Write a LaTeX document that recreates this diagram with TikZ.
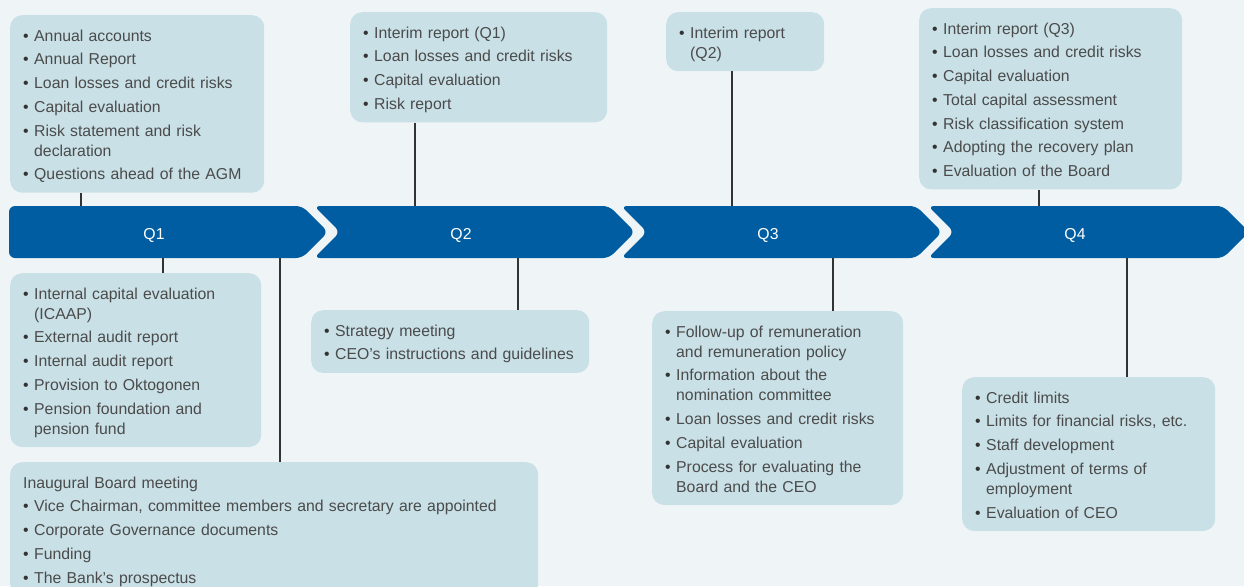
\documentclass[tikz,border=0pt]{standalone}
\usepackage{fontspec}
\setmainfont{Liberation Sans}
\usetikzlibrary{positioning}

\definecolor{bggray}{HTML}{EFF5F6}
\definecolor{boxblue}{HTML}{C8E0E6}
\definecolor{bandblue}{HTML}{005DA1}
\definecolor{textgray}{HTML}{4B4B4B}
\definecolor{linegray}{HTML}{333333}

\newcommand{\topst}{\rule{0pt}{19pt}}
\newcommand{\botst}{\rule[-6pt]{0pt}{6pt}}
\newcommand{\itm}[1]{\mbox{\makebox[11pt][l]{\textcolor{linegray}{\textbullet}}#1}}
\newcommand{\cnt}[1]{\mbox{\hspace*{11pt}#1}}
\newcommand{\nxt}{\\[3.7pt]}

\begin{document}
\begin{tikzpicture}[
  x=1pt, y=-1pt,
  every node/.style = {font=\fontsize{15.8}{20}\selectfont},
  box/.style  = {rectangle, rounded corners=12pt, fill=boxblue, text=textgray,
                 anchor=north west, align=left, inner xsep=13pt, inner ysep=7pt},
  band/.style = {fill=bandblue, rounded corners=6pt},
  qlbl/.style = {text=white},
  conn/.style = {draw=linegray, line width=1.2pt},
]
\clip (0,0) rectangle (1244,586);
\fill[bggray] (0,0) rectangle (1244,586);

% quarter band
\fill[band] (9,206) -- (302,206) -- (328,232) -- (302,258) -- (9,258) -- cycle;
\foreach \i in {1,2,3}
  \fill[band] ({7+307*\i},206) -- ++(295,0) -- ++(26,26) -- ++(-26,26)
              -- ++(-295,0) -- ++(26,-26) -- cycle;
\foreach \i in {1,...,4}
  \node[qlbl] (q\i) at ({154+307*(\i-1)},235) {Q\i};

% boxes above the band
\node[box, text width=228pt] (acc) at (10,15)
  {\topst\itm{Annual accounts}\nxt
   \itm{Annual Report}\nxt
   \itm{Loan losses and credit risks}\nxt
   \itm{Capital evaluation}\nxt
   \itm{Risk statement and risk}\\
   \cnt{declaration}\nxt
   \itm{Questions ahead of the AGM}\botst};
\node[box, text width=231pt] (rep1) at (350,12)
  {\topst\itm{Interim report (Q1)}\nxt
   \itm{Loan losses and credit risks}\nxt
   \itm{Capital evaluation}\nxt
   \itm{Risk report}\botst};
\node[box, text width=132pt] (rep2) at (666,12)
  {\topst\itm{Interim report}\\
   \cnt{(Q2)}\botst};
\node[box, text width=237pt] (rep3) at (919,8)
  {\topst\itm{Interim report (Q3)}\nxt
   \itm{Loan losses and credit risks}\nxt
   \itm{Capital evaluation}\nxt
   \itm{Total capital assessment}\nxt
   \itm{Risk classification system}\nxt
   \itm{Adopting the recovery plan}\nxt
   \itm{Evaluation of the Board}\botst};

% boxes below the band
\node[box, text width=225pt] (icaap) at (10,273)
  {\topst\itm{Internal capital evaluation}\\
   \cnt{(ICAAP)}\nxt
   \itm{External audit report}\nxt
   \itm{Internal audit report}\nxt
   \itm{Provision to Oktogonen}\nxt
   \itm{Pension foundation and}\\
   \cnt{pension fund}\botst};
\node[box, text width=502pt] (board) at (10,462)
  {\topst Inaugural Board meeting\nxt
   \itm{Vice Chairman, committee members and secretary are appointed}\nxt
   \itm{Corporate Governance documents}\nxt
   \itm{Funding}\nxt
   \itm{The Bank’s prospectus}\botst};
\node[box, text width=252pt] (strat) at (311,310)
  {\topst\itm{Strategy meeting}\nxt
   \itm{CEO’s instructions and guidelines}\botst};
\node[box, text width=225pt] (remun) at (652,311)
  {\topst\itm{Follow-up of remuneration}\\
   \cnt{and remuneration policy}\nxt
   \itm{Information about the}\\
   \cnt{nomination committee}\nxt
   \itm{Loan losses and credit risks}\nxt
   \itm{Capital evaluation}\nxt
   \itm{Process for evaluating the}\\
   \cnt{Board and the CEO}\botst};
\node[box, text width=227pt] (limits) at (962,377)
  {\topst\itm{Credit limits}\nxt
   \itm{Limits for financial risks, etc.}\nxt
   \itm{Staff development}\nxt
   \itm{Adjustment of terms of}\\
   \cnt{employment}\nxt
   \itm{Evaluation of CEO}\botst};

% connectors
\coordinate (t1) at (81,206);
\coordinate (t2) at (415,206);
\coordinate (t3) at (732,206);
\coordinate (t4) at (1039,206);
\coordinate (s1) at (163,258);
\coordinate (s2) at (280,258);
\coordinate (s3) at (518,258);
\coordinate (s4) at (833,258);
\coordinate (s5) at (1127,258);
\draw[conn] (acc.south -| t1)  -- (t1);
\draw[conn] (rep1.south -| t2) -- (t2);
\draw[conn] (rep2.south -| t3) -- (t3);
\draw[conn] (rep3.south -| t4) -- (t4);
\draw[conn] (s1) -- (icaap.north -| s1);
\draw[conn] (s2) -- (board.north -| s2);
\draw[conn] (s3) -- (strat.north -| s3);
\draw[conn] (s4) -- (remun.north -| s4);
\draw[conn] (s5) -- (limits.north -| s5);
\end{tikzpicture}
\end{document}
